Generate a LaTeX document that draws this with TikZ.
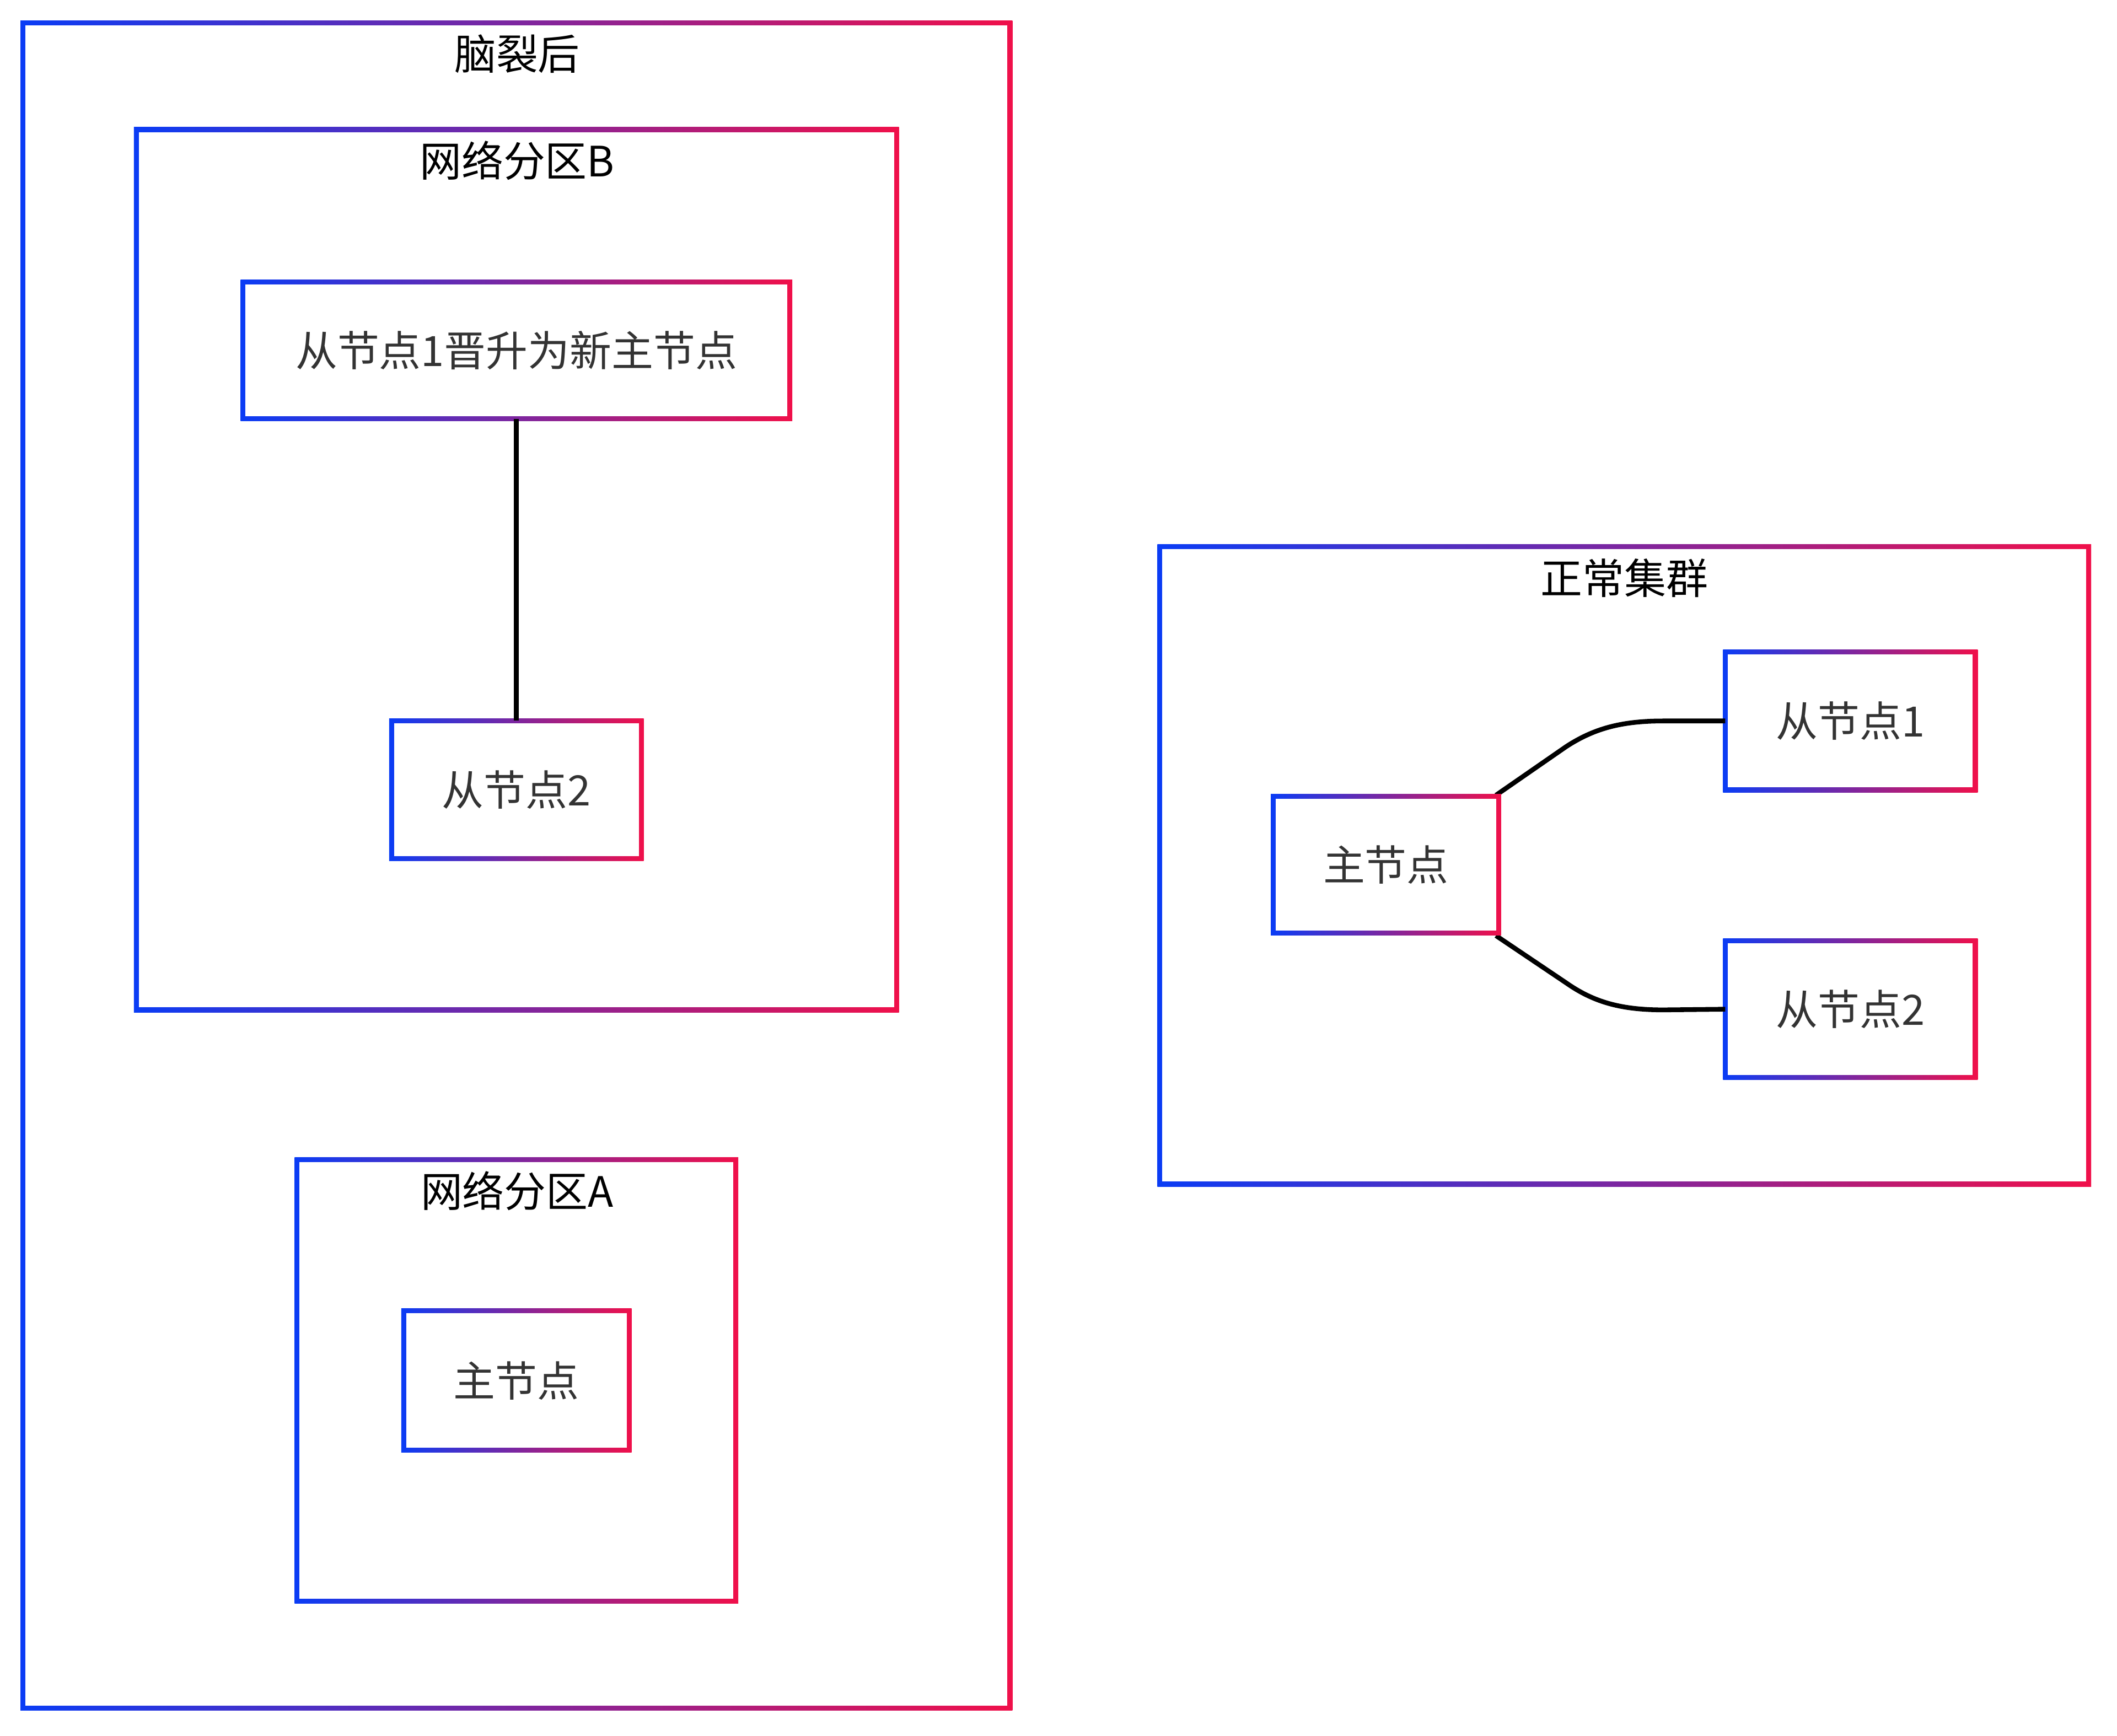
\documentclass[tikz,border=0pt]{standalone}
\usepackage{fontspec}
\setmainfont{Noto Sans CJK SC}
\usetikzlibrary{calc,fit}
\definecolor{gblue}{HTML}{0A3CF5}
\definecolor{gred}{HTML}{F0104A}
\definecolor{txt}{HTML}{333333}
\newcommand\gbox[3]{%
  \shade[left color=gblue,right color=gred] ($(#2)+(-1.8,-1.8)$) rectangle ($(#3)+(1.8,1.8)$);
  \fill[white] ($(#2)+(1.8,1.8)$) rectangle ($(#3)-(1.8,1.8)$);
  \node[fit={(#2)(#3)},inner sep=0pt] (#1) {};}
\tikzset{
  ttl/.style={font=\fontsize{31}{33}\selectfont,text=black,inner sep=0pt},
  lbl/.style={font=\fontsize{31}{33}\selectfont,text=txt,inner sep=0pt},
  conn/.style={line width=3.5pt,black}
}
\begin{document}
\begin{tikzpicture}[x=1pt,y=-1pt]
\useasboundingbox[fill=white] (0,0) rectangle (1568,1285.5);
% left
\gbox{outer}{17,17}{748,1265}
\node[ttl] (t1) at (383,40) {脑裂后};
\gbox{pb}{101,96}{664,748}
\node[ttl] (t2) at (383,119) {网络分区B};
\gbox{promo}{180,209}{585,310}
\node[lbl] at (promo.center) {从节点1晋升为新主节点};
\gbox{s2l}{290,534}{475,636}
\node[lbl] at (s2l.center) {从节点2};
\draw[conn] (promo.south) -- (s2l.north);
\gbox{pa}{220,859}{545,1186}
\node[ttl] (t3) at (383,882) {网络分区A};
\gbox{ma}{299,971}{466,1074}
\node[lbl] at (ma.center) {主节点};
% right
\gbox{norm}{859,405}{1547,877}
\node[ttl] (t4) at (1203,428) {正常集群};
\gbox{s1}{1278,483}{1463,585}
\node[lbl] at (s1.center) {从节点1};
\gbox{s2}{1278,697}{1463,798}
\node[lbl] at (s2.center) {从节点2};
\draw[conn] (s1.west) -- (1232,534) .. controls (1200,534) and (1180,540) .. (1160,553) -- (1108,589);
\draw[conn] (s2.west) -- (1232,748) .. controls (1200,748) and (1180,742) .. (1160,728) -- (1108,693);
\gbox{m}{943,590}{1110,691}
\node[lbl] at (m.center) {主节点};
\end{tikzpicture}
\end{document}
